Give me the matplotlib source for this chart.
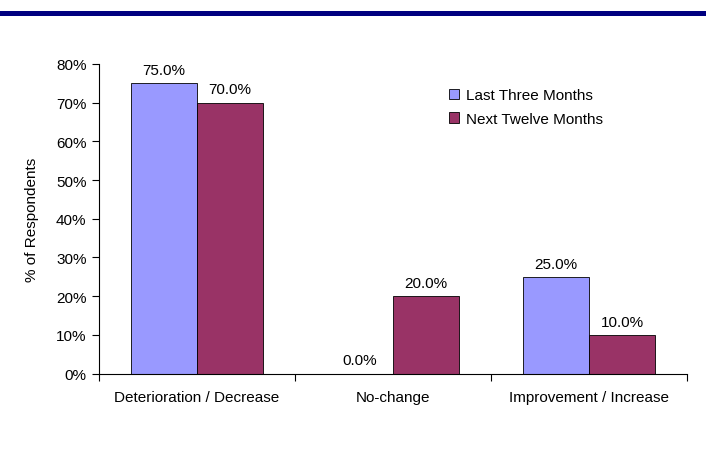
import numpy as np
import matplotlib
matplotlib.use('Agg')
import matplotlib.pyplot as plt
from matplotlib.lines import Line2D

plt.rcParams['font.family'] = ['Liberation Sans', 'DejaVu Sans']

categories = ['Deterioration / Decrease', 'No-change', 'Improvement / Increase']
last_three = [75.0, 0.0, 25.0]
next_twelve = [70.0, 20.0, 10.0]
series_names = ['Last Three Months', 'Next Twelve Months']
colors = ['#9999FF', '#993366']

fig = plt.figure(figsize=(7.06, 4.52), dpi=100)
# navy rule at the top
fig.add_artist(Line2D([0, 1], [1 - 13.5 / 452, 1 - 13.5 / 452], color='#000080', lw=3.6))

ax = fig.add_axes([99 / 706, 1 - 374.5 / 452, (687 - 99) / 706, (374.5 - 65) / 452])

x = np.arange(len(categories))
w = 0.337
b1 = ax.bar(x - w / 2, last_three, w, color=colors[0], edgecolor='black', linewidth=0.6, label=series_names[0])
b2 = ax.bar(x + w / 2, next_twelve, w, color=colors[1], edgecolor='black', linewidth=0.6, label=series_names[1])

for bars, vals in ((b1, last_three), (b2, next_twelve)):
    for r, v in zip(bars, vals):
        ax.text(r.get_x() + r.get_width() / 2, v + 1.6, '{:.1f}%'.format(v),
                ha='center', va='bottom', fontsize=11)

ax.set_xlim(-0.5, 2.5)
ax.set_ylim(0, 80)
ax.set_yticks(np.arange(0, 81, 10))
ax.set_yticklabels(['{}%'.format(t) for t in range(0, 81, 10)], fontsize=11)
ax.set_xticks([-0.5, 0.5, 1.5, 2.5])
ax.set_xticklabels([])
ax.set_xticks(x, minor=True)
ax.set_xticklabels(categories, minor=True, fontsize=11)
ax.tick_params(axis='x', which='minor', length=0, pad=12)
ax.tick_params(axis='x', which='major', length=5, direction='out')
ax.tick_params(axis='y', length=5, direction='out', pad=4)
for s in ('top', 'right'):
    ax.spines[s].set_visible(False)
ax.set_ylabel('% of Respondents', fontsize=11, labelpad=12)

ax.legend(loc='upper left', bbox_to_anchor=(449 / 706, 1 - 89 / 452), bbox_transform=fig.transFigure,
          frameon=False, fontsize=11, handlelength=0.65, handleheight=0.65, handletextpad=0.45,
          labelspacing=0.65, borderpad=0, borderaxespad=0)

fig.savefig('out.png', dpi=100)
